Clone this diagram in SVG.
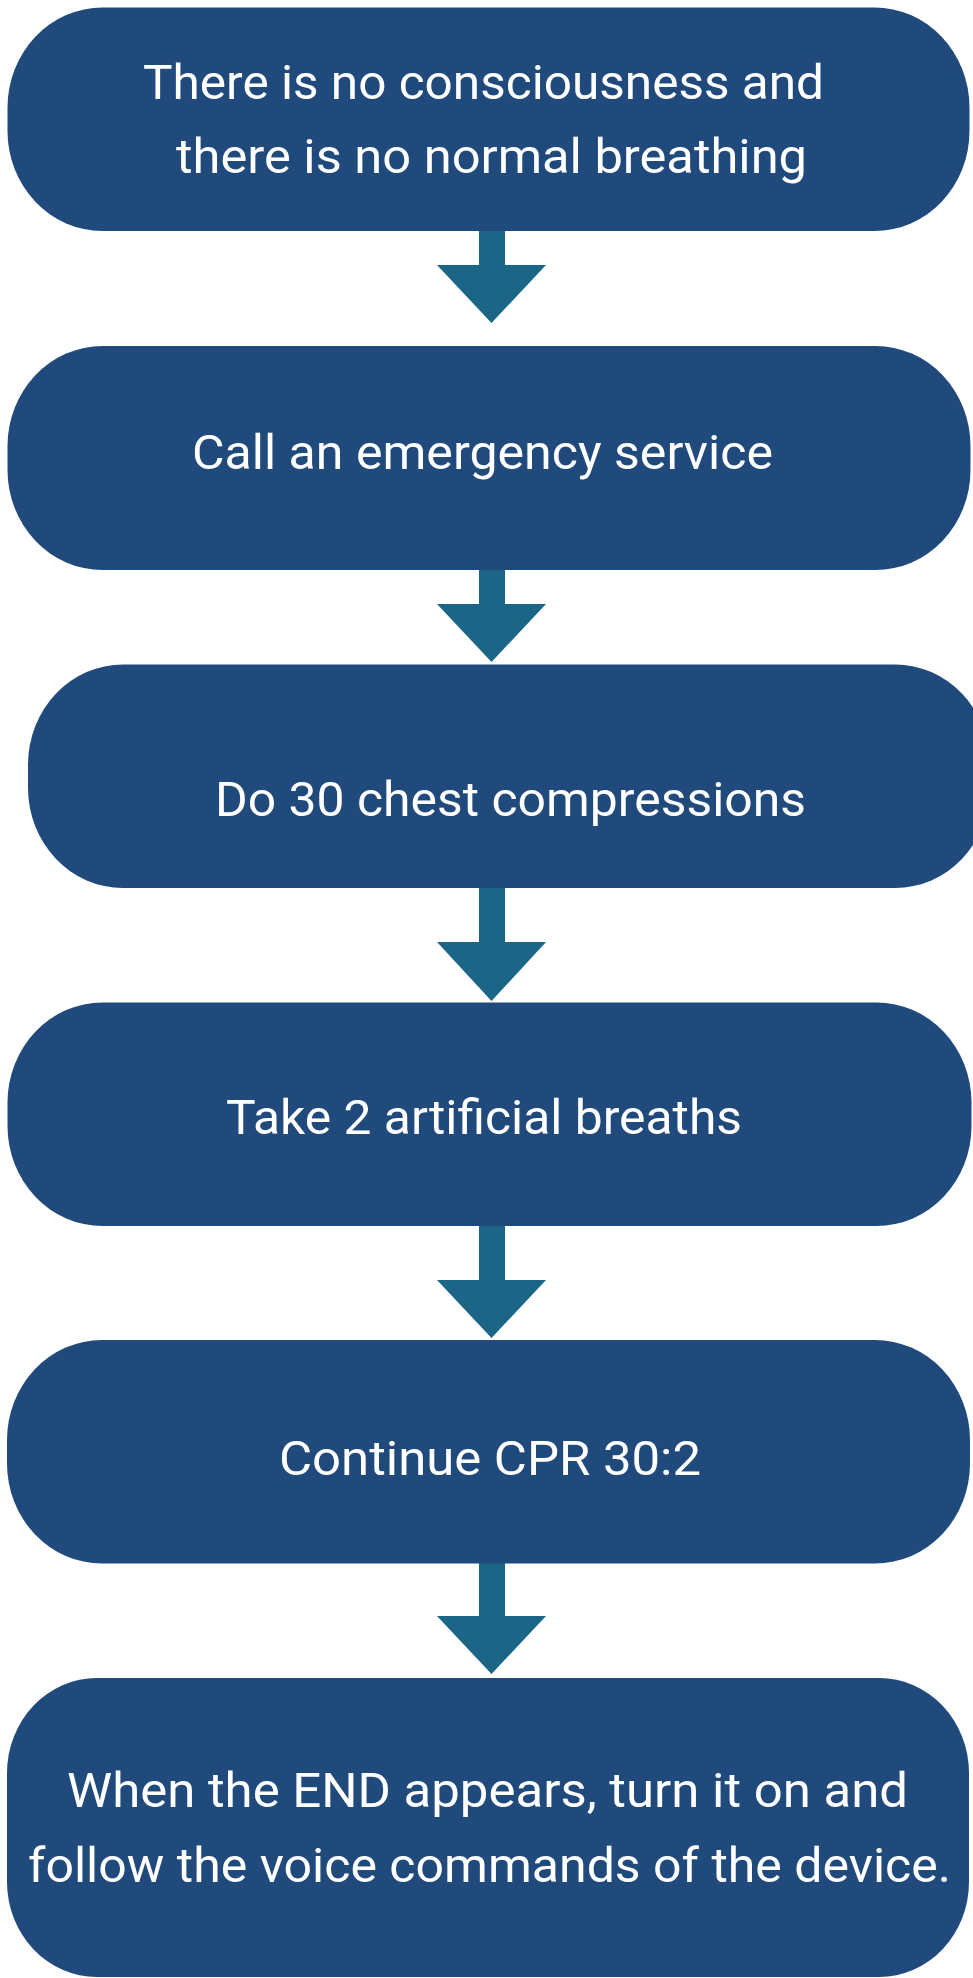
<svg xmlns="http://www.w3.org/2000/svg" width="973" height="1978" viewBox="0 0 973 1978">
  <style>
    .box { fill: #214a7c; }
    .arrow { fill: #1b6586; }
    .lbl { fill: #ffffff; font-family: Roboto, "Liberation Sans", "DejaVu Sans", sans-serif; font-size: 49px; }
  </style>
  <rect x="0" y="0" width="973" height="1978" fill="#ffffff"/>
  <g id="connectors">
    <path class="arrow" d="M479,225 H505 V265 H546 L491.5,323 L437,265 H479 Z"/>
    <path class="arrow" d="M479,564 H505 V604 H546 L491.5,662 L437,604 H479 Z"/>
    <path class="arrow" d="M479,882 H505 V942 H546 L491.5,1001 L437,942 H479 Z"/>
    <path class="arrow" d="M479,1220 H505 V1280 H546 L491.5,1338 L437,1280 H479 Z"/>
    <path class="arrow" d="M479,1557 H505 V1616 H546 L491.5,1674 L437,1616 H479 Z"/>
  </g>
  <g id="node1">
    <rect class="box" x="7.5" y="7.5" width="962" height="223.5" rx="95" ry="100"/>
    <text class="lbl" x="143" y="99" textLength="681" lengthAdjust="spacingAndGlyphs">There is no consciousness and</text>
    <text class="lbl" x="176" y="173" textLength="631" lengthAdjust="spacingAndGlyphs">there is no normal breathing</text>
  </g>
  <g id="node2">
    <rect class="box" x="7.5" y="346" width="963" height="224" rx="95" ry="100"/>
    <text class="lbl" x="192" y="468.5" textLength="581" lengthAdjust="spacingAndGlyphs">Call an emergency service</text>
  </g>
  <g id="node3">
    <rect class="box" x="28" y="664.5" width="962" height="223.5" rx="95" ry="100"/>
    <text class="lbl" x="215" y="816" textLength="591" lengthAdjust="spacingAndGlyphs">Do 30 chest compressions</text>
  </g>
  <g id="node4">
    <rect class="box" x="7.5" y="1002.5" width="964" height="223.5" rx="95" ry="100"/>
    <text class="lbl" x="226" y="1133.5" textLength="516" lengthAdjust="spacingAndGlyphs">Take 2 artificial breaths</text>
  </g>
  <g id="node5">
    <rect class="box" x="7" y="1340" width="963" height="223.5" rx="95" ry="100"/>
    <text class="lbl" x="279" y="1475" textLength="422" lengthAdjust="spacingAndGlyphs">Continue CPR 30:2</text>
  </g>
  <g id="node6">
    <rect class="box" x="7" y="1678" width="962" height="299" rx="90" ry="95"/>
    <text class="lbl" x="67" y="1807" textLength="841" lengthAdjust="spacingAndGlyphs">When the END appears, turn it on and</text>
    <text class="lbl" x="28" y="1881.5" textLength="923" lengthAdjust="spacingAndGlyphs">follow the voice commands of the device.</text>
  </g>
</svg>
